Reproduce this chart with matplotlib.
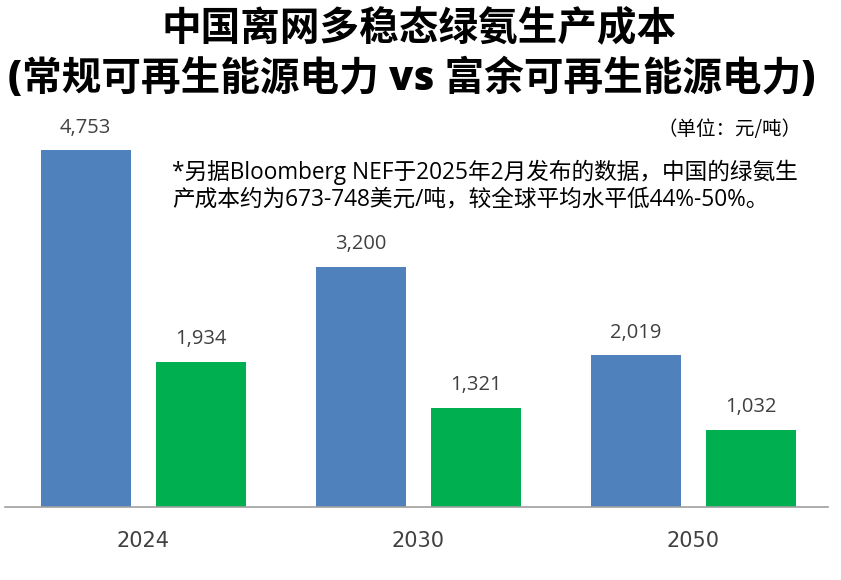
import numpy as np
import matplotlib.pyplot as plt

plt.rcParams['font.family'] = ['Noto Sans CJK SC', 'DejaVu Sans']
mixed = ['Open Sans', 'Noto Sans CJK SC', 'DejaVu Sans']

# data
years = ['2024', '2030', '2050']
conventional = [4753, 3200, 2019]   # 常规可再生能源电力
surplus = [1934, 1321, 1032]        # 富余可再生能源电力

blue = '#4F81BD'
green = '#00B050'
txt = '#404040'

fig = plt.figure(figsize=(8.41, 5.80), dpi=100)
ax = fig.add_axes([5 / 841, 73 / 580, 823 / 841, 397 / 580])

x = np.arange(len(years))
w = 0.327
off = 0.209
b1 = ax.bar(x - off, conventional, w, color=blue)
b2 = ax.bar(x + off, surplus, w, color=green)

for bars, vals in ((b1, conventional), (b2, surplus)):
    for r, v in zip(bars, vals):
        ax.text(r.get_x() + r.get_width() / 2, v + 170, '{:,}'.format(v),
                ha='center', va='bottom', fontsize=14.5, color=txt,
                family=mixed)

ax.set_xlim(-0.502, 2.49)
ax.set_ylim(0, 5290)
ax.set_yticks([])
ax.set_xticks(x)
ax.set_xticklabels(years, fontsize=15, color=txt,
                   family=['Liberation Sans Narrow', 'DejaVu Sans'])
ax.tick_params(axis='x', length=0, pad=17)
for s in ['top', 'right', 'left']:
    ax.spines[s].set_visible(False)
ax.spines['bottom'].set_color('#A0A0A0')
ax.spines['bottom'].set_linewidth(1.2)

fig.text(0.498, 1 - 30 / 580, '中国离网多稳态绿氨生产成本', ha='center', va='center',
         fontsize=28.5, fontweight='heavy', color='black', family=mixed)
fig.text(0.49, 1 - 79 / 580, '(常规可再生能源电力 vs 富余可再生能源电力)', ha='center',
         va='center', fontsize=28.5, fontweight='heavy', color='black',
         family=mixed)

fig.text(802 / 841, 1 - 130 / 580, '（单位：元/吨）', ha='right', va='center',
         fontsize=14, color='black')
fig.text(172 / 841, 1 - 186 / 580,
         '*另据Bloomberg NEF于2025年2月发布的数据，中国的绿氨生\n'
         '产成本约为673-748美元/吨，较全球平均水平低44%-50%。',
         ha='left', va='center', fontsize=16.3, color='black', linespacing=1.15,
         family=mixed)

fig.savefig('out.png', dpi=100)
